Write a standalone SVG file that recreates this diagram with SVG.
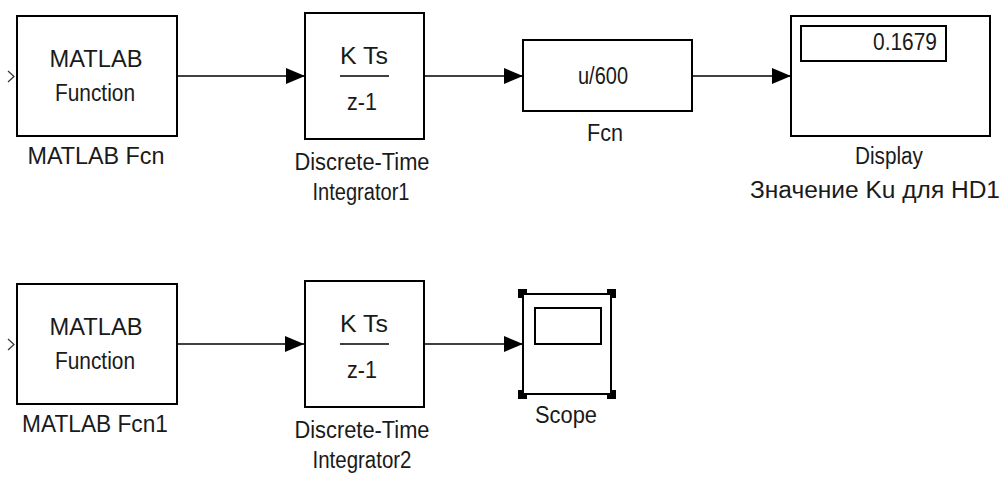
<svg xmlns="http://www.w3.org/2000/svg" width="1002" height="478" viewBox="0 0 1002 478">
<style>
.blk{fill:#fff;stroke:#000;stroke-width:2}
.t{font-family:"Liberation Sans",Arial,sans-serif;font-size:23px;fill:#1a1a1a;text-anchor:middle}
.w{stroke:#000;stroke-width:1.6;fill:none}
.chev{stroke:#333;stroke-width:1.2;fill:none}
</style>
<defs>
<marker id="ah" markerUnits="userSpaceOnUse" markerWidth="19" markerHeight="16" refX="19" refY="8" orient="auto">
<path d="M0,0 L19,8 L0,16 z" fill="#000"/>
</marker>
</defs>
<rect width="1002" height="478" fill="#fff"/>
<g id="connectors">
<line class="w" x1="177" y1="76" x2="305" y2="76" marker-end="url(#ah)"/>
<line class="w" x1="424" y1="76" x2="523" y2="76" marker-end="url(#ah)"/>
<line class="w" x1="692" y1="76" x2="791" y2="76" marker-end="url(#ah)"/>
<line class="w" x1="177" y1="344" x2="304" y2="344" marker-end="url(#ah)"/>
<line class="w" x1="424" y1="344" x2="523" y2="344" marker-end="url(#ah)"/>
</g>
<g id="matlab_fcn">
<path class="chev" d="M8,71 L14,76.5 L8,82"/>
<rect class="blk" x="17" y="16" width="160" height="120"/>
<text class="t" x="96" y="67" textLength="93" lengthAdjust="spacingAndGlyphs">MATLAB</text>
<text class="t" x="95" y="101" textLength="80" lengthAdjust="spacingAndGlyphs">Function</text>
<text class="t" x="96" y="164" textLength="137" lengthAdjust="spacingAndGlyphs">MATLAB Fcn</text>
</g>
<g id="integrator1">
<rect class="blk" x="305" y="13" width="119" height="126"/>
<text class="t" x="364" y="64" textLength="48" lengthAdjust="spacingAndGlyphs">K Ts</text>
<line x1="340" y1="76" x2="389" y2="76" stroke="#000" stroke-width="1.6"/>
<text class="t" x="362" y="110" textLength="30" lengthAdjust="spacingAndGlyphs">z-1</text>
<text class="t" x="362" y="170" textLength="135" lengthAdjust="spacingAndGlyphs">Discrete-Time</text>
<text class="t" x="361" y="200" textLength="97" lengthAdjust="spacingAndGlyphs">Integrator1</text>
</g>
<g id="fcn">
<rect class="blk" x="523" y="40" width="169" height="71"/>
<text class="t" x="603" y="84" textLength="50" lengthAdjust="spacingAndGlyphs">u/600</text>
<text class="t" x="605" y="141" textLength="36" lengthAdjust="spacingAndGlyphs">Fcn</text>
</g>
<g id="display">
<rect class="blk" x="791" y="16" width="199" height="120"/>
<rect class="blk" x="801" y="26" width="145" height="35"/>
<text class="t" x="905" y="50" textLength="64" lengthAdjust="spacingAndGlyphs">0.1679</text>
<text class="t" x="889" y="164" textLength="68" lengthAdjust="spacingAndGlyphs">Display</text>
<text class="t" x="875" y="198" textLength="250" lengthAdjust="spacingAndGlyphs">Значение Ku для HD1</text>
</g>
<g id="matlab_fcn1">
<path class="chev" d="M8,339 L14,344.5 L8,350"/>
<rect class="blk" x="17" y="284" width="160" height="120"/>
<text class="t" x="96" y="335" textLength="93" lengthAdjust="spacingAndGlyphs">MATLAB</text>
<text class="t" x="95" y="369" textLength="80" lengthAdjust="spacingAndGlyphs">Function</text>
<text class="t" x="95" y="432" textLength="146" lengthAdjust="spacingAndGlyphs">MATLAB Fcn1</text>
</g>
<g id="integrator2">
<rect class="blk" x="305" y="281" width="119" height="126"/>
<text class="t" x="364" y="332" textLength="48" lengthAdjust="spacingAndGlyphs">K Ts</text>
<line x1="340" y1="344" x2="389" y2="344" stroke="#000" stroke-width="1.6"/>
<text class="t" x="362" y="378" textLength="30" lengthAdjust="spacingAndGlyphs">z-1</text>
<text class="t" x="362" y="438" textLength="135" lengthAdjust="spacingAndGlyphs">Discrete-Time</text>
<text class="t" x="362" y="468" textLength="99" lengthAdjust="spacingAndGlyphs">Integrator2</text>
</g>
<g id="scope">
<rect class="blk" x="523" y="294" width="88" height="100"/>
<rect class="blk" x="535" y="308" width="66" height="36"/>
<g fill="#000">
<rect x="518" y="289" width="9" height="9"/>
<rect x="607" y="289" width="9" height="9"/>
<rect x="518" y="390" width="9" height="9"/>
<rect x="607" y="390" width="9" height="9"/>
</g>
<g fill="#fff">
<rect x="524" y="295" width="3" height="3"/>
<rect x="607" y="295" width="3" height="3"/>
<rect x="524" y="390" width="3" height="3"/>
<rect x="607" y="390" width="3" height="3"/>
</g>
<text class="t" x="566" y="423" textLength="62" lengthAdjust="spacingAndGlyphs">Scope</text>
</g>
</svg>
